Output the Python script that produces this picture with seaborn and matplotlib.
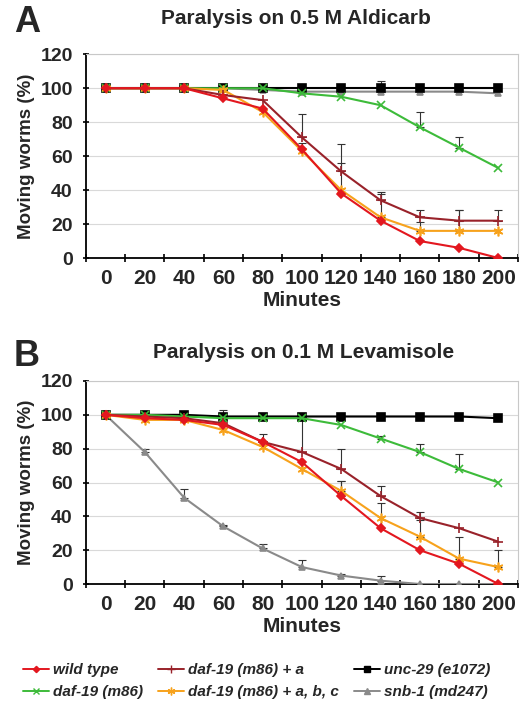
import numpy as np
import pandas as pd
import seaborn as sns
import matplotlib
matplotlib.use("Agg")
import matplotlib.pyplot as plt
from matplotlib.lines import Line2D
from matplotlib.ticker import FixedLocator

sns.set_theme(style="white")
plt.rcParams['font.family'] = ['Liberation Sans', 'DejaVu Sans']

minutes = [0, 20, 40, 60, 80, 100, 120, 140, 160, 180, 200]
series_names = ["wild type", "daf-19 (m86)", "daf-19 (m86) + a",
                "daf-19 (m86) + a, b, c", "unc-29 (e1072)", "snb-1 (md247)"]

# Panel A: aldicarb
a_wild = [100, 100, 100, 94, 88, 64, 38, 22, 10, 6, 0]
a_daf19 = [100, 100, 100, 100, 100, 97, 95, 90, 77, 65, 53]
a_daf19_a = [100, 100, 100, 96, 93, 71, 51, 34, 24, 22, 22]
a_daf19_abc = [100, 100, 100, 99, 86, 63, 40, 24, 16, 16, 16]
a_unc29 = [100, 100, 100, 100, 100, 100, 100, 100, 100, 100, 100]
a_snb1 = [100, 100, 100, 100, 99, 98, 98, 98, 98, 98, 97]

a_err_wild = [0, 0, 0, 0, 0, 4, 18, 0, 0, 0, 0]
a_err_daf19 = [0, 0, 0, 0, 0, 0, 0, 0, 9, 6, 0]
a_err_daf19_a = [0, 0, 0, 0, 0, 14, 16, 5, 4, 6, 6]
a_err_daf19_abc = [0, 0, 0, 0, 0, 0, 0, 14, 5, 12, 0]
a_err_unc29 = [0, 0, 0, 0, 0, 0, 0, 0, 0, 0, 0]
a_err_snb1 = [0, 0, 0, 2, 0, 0, 0, 6, 0, 0, 0]

# Panel B: levamisole
b_wild = [100, 98, 97, 94, 84, 72, 52, 33, 20, 12, 0]
b_daf19 = [100, 100, 99, 98, 98, 98, 94, 86, 78, 68, 60]
b_daf19_a = [100, 99, 98, 95, 84, 78, 68, 52, 39, 33, 25]
b_daf19_abc = [100, 97, 97, 91, 81, 68, 55, 39, 28, 15, 10]
b_unc29 = [100, 100, 100, 99, 99, 99, 99, 99, 99, 99, 98]
b_snb1 = [100, 78, 51, 34, 21, 10, 5, 2, 0, 0, 0]

b_err_wild = [0, 0, 0, 0, 0, 0, 9, 15, 0, 0, 0]
b_err_daf19 = [0, 0, 0, 0, 0, 0, 0, 1.5, 4.5, 9, 0]
b_err_daf19_a = [0, 0, 0, 0, 4.5, 19, 12, 6, 3.5, 0, 0]
b_err_daf19_abc = [0, 0, 0, 0, 0, 0, 6, 0, 10, 13, 10]
b_err_unc29 = [0, 0, 0, 4, 0, 0, 0, 0, 0, 0, 0]
b_err_snb1 = [0, 2, 5, 1, 2.5, 4, 1, 2.5, 0, 0, 0]

colors = ["#e3171f", "#3dbb3a", "#99222a", "#f7a21c", "#000000", "#8a8a8a"]
markers = ["D", "x", "+", (6, 2, 0), "s", "^"]
msizes = [4, 6, 7, 7, 6, 5]

panels = [
    ("Paralysis on 0.5 M Aldicarb", "A",
     [a_wild, a_daf19, a_daf19_a, a_daf19_abc, a_unc29, a_snb1],
     [a_err_wild, a_err_daf19, a_err_daf19_a, a_err_daf19_abc, a_err_unc29, a_err_snb1],
     [0.163, 0.634, 0.820, 0.289], 1 - 18 / 705, 1 - 22 / 705),
    ("Paralysis on 0.1 M Levamisole", "B",
     [b_wild, b_daf19, b_daf19_a, b_daf19_abc, b_unc29, b_snb1],
     [b_err_wild, b_err_daf19, b_err_daf19_a, b_err_daf19_abc, b_err_unc29, b_err_snb1],
     [0.163, 0.1716, 0.820, 0.288], 1 - 352 / 705, 1 - 357 / 705),
]

fig = plt.figure(figsize=(5.27, 7.05), dpi=100)

for title, letter, vals, errs, pos, ty, ly in panels:
    ax = fig.add_axes(pos)
    order = [5, 4, 1, 3, 2, 0]
    for i in order:
        df = pd.DataFrame({"Minutes": minutes, "Moving": vals[i]})
        err = np.array(errs[i], dtype=float)
        mask = err > 0
        if mask.any():
            x = np.array(minutes)[mask]
            y = np.array(vals[i])[mask]
            ax.errorbar(x, y, yerr=[np.zeros(mask.sum()), err[mask]], fmt='none',
                        ecolor='#333333', elinewidth=0.8, capsize=3, capthick=0.8, zorder=2)
        sns.lineplot(data=df, x="Minutes", y="Moving", ax=ax, color=colors[i],
                     marker=markers[i], markersize=msizes[i], markeredgecolor=colors[i],
                     markeredgewidth=1.2, linewidth=1.5, zorder=3, legend=False)
    ax.set_xlim(-10, 210)
    ax.set_ylim(0, 120)
    ax.set_yticks([0, 20, 40, 60, 80, 100, 120])
    ax.set_xticks(minutes)
    ax.set_xticklabels([str(m) for m in minutes])
    ax.xaxis.set_minor_locator(FixedLocator(np.arange(-10, 211, 20)))
    ax.tick_params(axis='x', which='major', length=0, pad=8, labelsize=15)
    ax.tick_params(axis='x', which='minor', length=6, width=1.2, direction='inout', color='black', bottom=True)
    ax.tick_params(axis='y', which='major', length=5, width=1.2, direction='inout', color='black',
                   left=True, labelsize=14, pad=7)
    for lab in ax.get_xticklabels() + ax.get_yticklabels():
        lab.set_fontweight('bold')
    ax.grid(axis='y', color='#d9d9d9', linewidth=0.8)
    ax.set_axisbelow(True)
    for s in ['top', 'right']:
        ax.spines[s].set_color('#c8c8c8')
        ax.spines[s].set_linewidth(0.8)
    for s in ['left', 'bottom']:
        ax.spines[s].set_color('black')
        ax.spines[s].set_linewidth(1.3)
    ax.set_xlabel("Minutes", fontsize=15, fontweight='bold', labelpad=2)
    ax.set_ylabel("Moving worms (%)", fontsize=13.5, fontweight='bold', labelpad=4)
    fig.text(296 / 527 if letter == "A" else 304 / 527, ty, title, fontsize=15,
             fontweight='bold', ha='center', va='center')
    fig.text(14 / 527, ly, letter, fontsize=26, fontweight='bold', ha='left', va='center')

handles = [Line2D([0], [0], color=colors[i], marker=markers[i], markersize=msizes[i] * 0.8,
                  markeredgecolor=colors[i], linewidth=1.4) for i in [0, 1, 2, 3, 4, 5]]
fig.legend(handles, series_names, loc='center left', bbox_to_anchor=(0.018, 0.034), ncol=3,
           frameon=False, handlelength=1.7, handletextpad=0.25, columnspacing=1.0,
           labelspacing=0.5, prop={'size': 11, 'weight': 'bold', 'style': 'italic'})

fig.savefig("out.png", dpi=100)
